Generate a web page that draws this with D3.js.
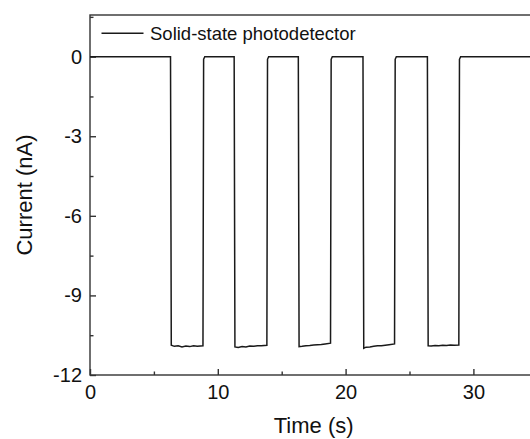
<!DOCTYPE html>
<html lang="en">
<head>
<meta charset="utf-8" />
<style>
  body { margin: 0; background: #fff; }
  svg text { font-family: "Liberation Sans", Arial, sans-serif; fill: #111; }
</style>
</head>
<body>
<div class="chart"></div>
<script src="https://d3js.org/d3.v7.min.js"></script>
<script>
// photocurrent trace
var timeS = [0, 6.30, 6.36, 6.6, 6.9, 7.2, 7.5, 7.8, 8.1, 8.4, 8.84, 8.89, 8.98,
  11.28, 11.34, 11.6, 11.9, 12.2, 12.5, 12.8, 13.1, 13.4, 13.84, 13.89, 13.98,
  16.30, 16.36, 16.6, 16.9, 17.2, 17.5, 17.8, 18.1, 18.4, 18.82, 18.87, 18.96,
  21.36, 21.42, 21.6, 21.9, 22.2, 22.5, 22.8, 23.1, 23.4, 23.83, 23.88, 23.97,
  26.40, 26.46, 26.7, 27.0, 27.3, 27.6, 27.9, 28.2, 28.5, 28.86, 28.91, 29.0, 35];
var currentNA = [0, 0, -10.88, -10.92, -10.90, -10.94, -10.91, -10.93, -10.90, -10.92, -10.90, -0.1, 0,
  0, -10.94, -10.96, -10.93, -10.94, -10.91, -10.92, -10.90, -10.90, -10.88, -0.1, 0,
  0, -10.93, -10.92, -10.90, -10.89, -10.87, -10.86, -10.85, -10.83, -10.80, -0.1, 0,
  0, -10.99, -10.95, -10.94, -10.92, -10.90, -10.90, -10.88, -10.86, -10.83, -0.1, 0,
  0, -10.90, -10.91, -10.89, -10.90, -10.88, -10.89, -10.87, -10.88, -10.87, -0.1, 0, 0];

var xMajor = [0, 10, 20, 30];
var xMinor = [5, 15, 25, 35];
var yMajor = [0, -3, -6, -9, -12];
var yMinor = [1.5, -1.5, -4.5, -7.5, -10.5];
var seriesName = "Solid-state photodetector";

var W = 530, H = 439;
var pL = 90, pT = 15, pR = 537.3, pB = 375;

var svg = d3.select("div.chart").append("svg")
  .attr("width", W).attr("height", H);

var x = d3.scaleLinear().domain([0, 35]).range([pL, pR]);
var y = d3.scaleLinear().domain([-12, 1.57]).range([pB, pT]);

// plain hyphen for negatives, like the source
var fmt = function(d) { return String(d); };

// frame (right side falls off the canvas as in the source)
svg.append("rect")
  .attr("x", pL).attr("y", pT)
  .attr("width", pR - pL).attr("height", pB - pT)
  .attr("fill", "none").attr("stroke", "#333").attr("stroke-width", 1.4);

var gx = svg.append("g").attr("transform", "translate(0," + pB + ")")
  .call(d3.axisBottom(x).tickValues(xMajor).tickSize(-6).tickPadding(10).tickFormat(fmt));
var gxm = svg.append("g").attr("transform", "translate(0," + pB + ")")
  .call(d3.axisBottom(x).tickValues(xMinor).tickSize(-3.5).tickFormat(""));
var gy = svg.append("g").attr("transform", "translate(" + pL + ",0)")
  .call(d3.axisLeft(y).tickValues(yMajor).tickSize(-6).tickPadding(8).tickFormat(fmt));
var gym = svg.append("g").attr("transform", "translate(" + pL + ",0)")
  .call(d3.axisLeft(y).tickValues(yMinor).tickSize(-3.5).tickFormat(""));

[gx, gxm, gy, gym].forEach(function(g) {
  g.select(".domain").remove();
  g.selectAll(".tick line").attr("stroke", "#333").attr("stroke-width", 1.4);
  g.selectAll(".tick text").style("font-size", "20px").attr("fill", "#111");
});

var line = d3.line()
  .x(function(d) { return x(d[0]); })
  .y(function(d) { return y(d[1]); });

svg.append("path")
  .datum(timeS.map(function(t, i) { return [t, currentNA[i]]; }))
  .attr("d", line)
  .attr("fill", "none")
  .attr("stroke", "#1a1a1a")
  .attr("stroke-width", 1.5)
  .attr("stroke-linejoin", "miter");

// legend
svg.append("line")
  .attr("x1", 101.5).attr("x2", 143.5)
  .attr("y1", 33.3).attr("y2", 33.3)
  .attr("stroke", "#1a1a1a").attr("stroke-width", 1.5);
svg.append("text")
  .attr("x", 150).attr("y", 40)
  .style("font-size", "18.5px")
  .text(seriesName);

// axis titles
svg.append("text")
  .attr("x", (pL + pR) / 2).attr("y", 433)
  .attr("text-anchor", "middle")
  .style("font-size", "22px")
  .text("Time (s)");
svg.append("text")
  .attr("transform", "translate(32," + ((pT + pB) / 2) + ") rotate(-90)")
  .attr("text-anchor", "middle")
  .style("font-size", "22px")
  .text("Current (nA)");
</script>
</body>
</html>
